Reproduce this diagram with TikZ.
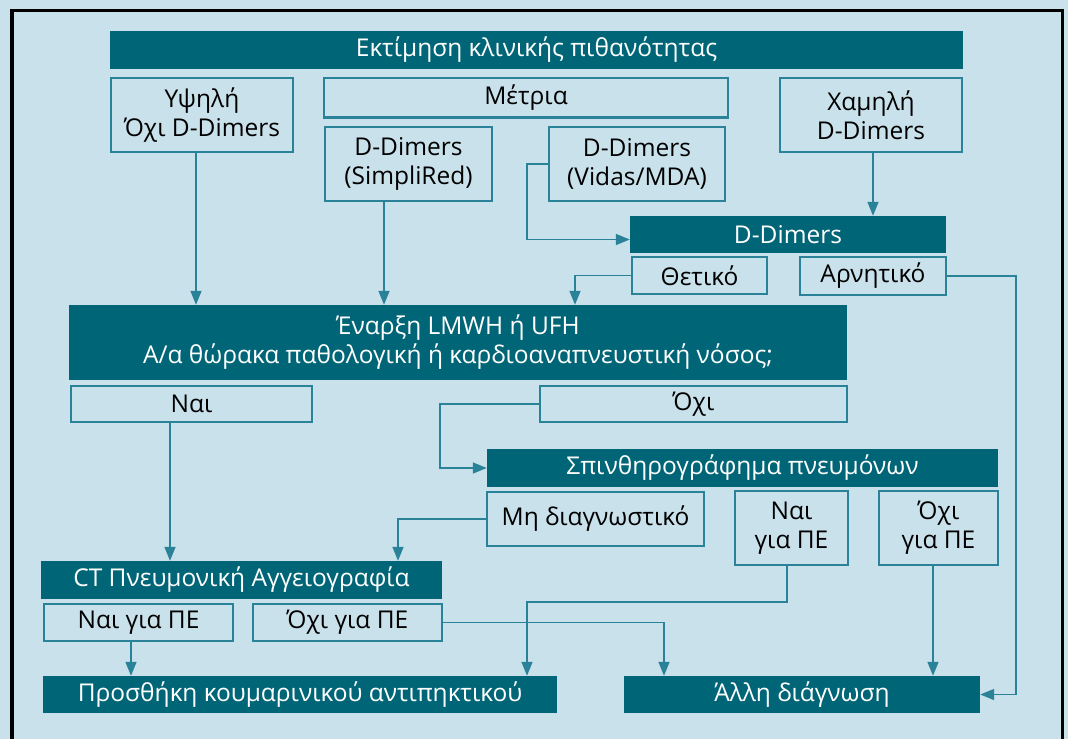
\documentclass[tikz,border=0pt]{standalone}
\usepackage{fontspec}
\setmainfont{Open Sans}
\usetikzlibrary{arrows.meta}
\definecolor{bgc}{HTML}{C9E1EB}
\definecolor{tealdark}{HTML}{006677}
\definecolor{edgec}{HTML}{2A8298}
\begin{document}
\begin{tikzpicture}[x=1pt,y=-1pt,
  txt/.style={font=\fontsize{24.5}{29}\selectfont},
  dark/.style={txt, fill=tealdark, text=white, inner sep=0pt, align=center},
  light/.style={txt, draw=edgec, line width=1.5pt, text=black, inner sep=0pt, align=center},
  arr/.style={draw=edgec, line width=1.5pt, -{Triangle[length=14pt,width=11pt]}},
  ln/.style={draw=edgec, line width=1.5pt}]
\useasboundingbox (0,0) rectangle (1068,739);
\fill[bgc] (0,0) rectangle (1068,739);
\draw[line width=3.5pt, black] (12,739) -- (12,10.3) -- (1062.5,10.3) -- (1062.5,739);

% nodes
\node[dark, minimum width=853pt, minimum height=38pt] (title) at (536.5,50) {Εκτίμηση κλινικής πιθανότητας};
\node[light, minimum width=182pt, minimum height=74pt] (hi) at (202,115) {Υψηλή\\Όχι D-Dimers};
\node[light, minimum width=404pt, minimum height=39pt] (med) at (526,97.5) {Μέτρια};
\node[light, minimum width=167pt, minimum height=74pt] (simp) at (408.5,164) {D-Dimers\\(SimpliRed)};
\node[light, minimum width=176pt, minimum height=74pt] (vidas) at (637,164) {D-Dimers\\(Vidas/MDA)};
\node[light, minimum width=182pt, minimum height=74pt] (low) at (871,115) {Χαμηλή\\D-Dimers};
\node[dark, minimum width=316pt, minimum height=37pt] (dd) at (788,234.5) {D-Dimers};
\node[light, minimum width=135pt, minimum height=37pt] (pos) at (699.5,275.5) {Θετικό};
\node[light, minimum width=146pt, minimum height=38pt] (neg) at (873,276) {Αρνητικό};
\node[dark, minimum width=778pt, minimum height=75pt] (start) at (458,342.5) {Έναρξη LMWH ή UFH\\Α/α θώρακα παθολογική ή καρδιοαναπνευστική νόσος;};
\node[light, minimum width=241pt, minimum height=36pt] (yes1) at (191.5,404) {Ναι};
\node[light, minimum width=307pt, minimum height=36pt] (no1) at (693.5,404) {Όχι};
\node[dark, minimum width=511pt, minimum height=38pt] (scint) at (742.5,468) {Σπινθηρογράφημα πνευμόνων};
\node[light, minimum width=217pt, minimum height=54pt] (nondiag) at (595.5,519) {Μη διαγνωστικό};
\node[light, minimum width=113pt, minimum height=74pt] (yespe) at (791.5,528) {Ναι\\για ΠΕ};
\node[light, minimum width=119pt, minimum height=74pt] (nope) at (938.5,528) {Όχι\\για ΠΕ};
\node[dark, minimum width=401pt, minimum height=38pt] (ct) at (241.5,580) {CT Πνευμονική Αγγειογραφία};
\node[light, minimum width=189pt, minimum height=37pt] (yesct) at (138.5,622.5) {Ναι για ΠΕ};
\node[light, minimum width=189pt, minimum height=37pt] (noct) at (347.5,622.5) {Όχι για ΠΕ};
\node[dark, minimum width=514pt, minimum height=37pt] (add) at (300,694.5) {Προσθήκη κουμαρινικού αντιπηκτικού};
\node[dark, minimum width=356pt, minimum height=37pt] (other) at (802,694.5) {Άλλη διάγνωση};

% thicker lower edge of the "Μέτρια" box
\draw[ln, line width=2.8pt] (med.south west) -- (med.south east);

% bend coordinates
\coordinate (xa) at (196,0);
\coordinate (xb) at (384,0);
\coordinate (xc) at (527,0);
\coordinate (xd) at (873,0);
\coordinate (xe) at (575,0);
\coordinate (xf) at (1016,0);
\coordinate (xg) at (170,0);
\coordinate (xh) at (440,0);
\coordinate (xi) at (398,0);
\coordinate (xj) at (131,0);
\coordinate (xk) at (664,0);
\coordinate (xl) at (933,0);
\coordinate (ddin) at ([yshift=-5pt]dd.west);
\coordinate (k1) at (787,602);
\coordinate (k2) at (527,602);

% connectors
\draw[arr] (hi.south -| xa) -- (start.north -| xa);
\draw[arr] (simp.south -| xb) -- (start.north -| xb);
\draw[arr] (vidas.west) -| (ddin -| xc) -- (ddin);
\draw[arr] (low.south -| xd) -- (dd.north -| xd);
\draw[arr] (pos.west) -| (start.north -| xe);
\draw[arr] (neg.east) -| (other.east -| xf) -- (other.east);
\draw[arr] (yes1.south -| xg) -- (ct.north -| xg);
\draw[arr] (no1.west) -| (scint.west -| xh) -- (scint.west);
\draw[arr] (nondiag.west) -| (ct.north -| xi);
\draw[arr] (yesct.south -| xj) -- (add.north -| xj);
\draw[arr] (yespe.south -| k1) -- (k1) -- (k2) -- (add.north -| k2);
\draw[arr] (noct.east) -| (other.north -| xk);
\draw[arr] (nope.south -| xl) -- (other.north -| xl);
\end{tikzpicture}
\end{document}
